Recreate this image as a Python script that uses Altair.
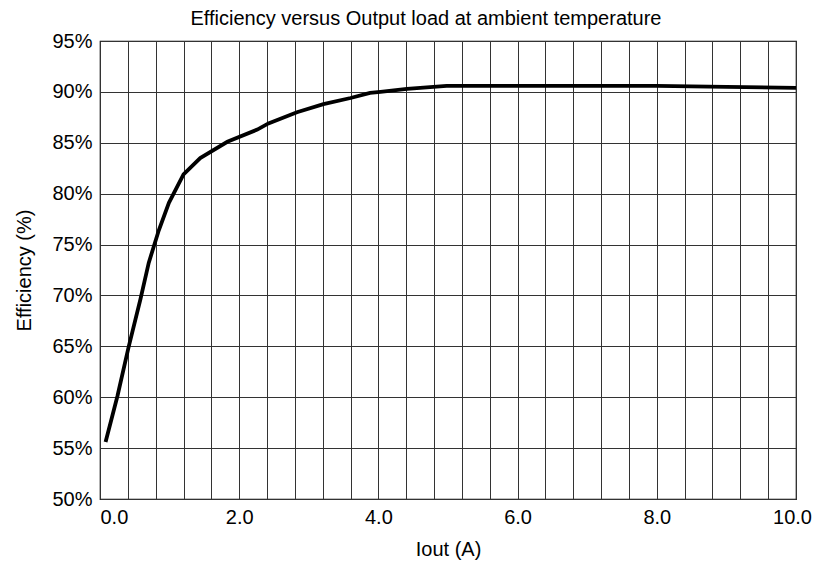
import altair as alt
import pandas as pd

# Output current (A) and efficiency (%)
iout = [0.08, 0.25, 0.41, 0.58, 0.70, 0.845, 0.99, 1.20, 1.44, 1.83, 2.26, 2.42,
        2.83, 3.21, 3.60, 3.88, 4.03, 4.41, 4.98, 6.0, 8.0, 9.0, 10.0]
eff = [55.6, 60.1, 64.9, 69.6, 73.2, 76.4, 79.1, 81.9, 83.5, 85.1, 86.3, 86.9,
       88.0, 88.8, 89.4, 89.9, 90.0, 90.3, 90.6, 90.6, 90.6, 90.5, 90.4]

x_grid = [0.0, 0.4, 0.8, 1.2, 1.6, 2.0, 2.4, 2.8, 3.2, 3.6, 4.0, 4.4, 4.8, 5.2,
          5.6, 6.0, 6.4, 6.8, 7.2, 7.6, 8.0, 8.4, 8.8, 9.2, 9.6, 10.0]
y_ticks = [50, 55, 60, 65, 70, 75, 80, 85, 90, 95]

df = pd.DataFrame({"iout": iout, "eff": eff})

FONT = "Liberation Sans"

chart = alt.Chart(df).mark_line(color="black", strokeWidth=3.8).encode(
    x=alt.X("iout:Q",
            scale=alt.Scale(domain=[0, 10], nice=False, zero=False),
            axis=alt.Axis(values=x_grid, title="Iout (A)", grid=True,
                          labelExpr="datum.value % 2 == 0 ? format(datum.value, '.1f') : ''",
                          labelAlign=alt.ConditionalAxisLabelAlign(
                              condition={"test": "datum.value == 0", "value": "left"},
                              value="center"),
                          labelOffset=alt.ConditionalAxisNumber(
                              condition={"test": "datum.value == 10", "value": -4},
                              value=0),
                          labelFlush=False,
                          ticks=False, domain=False, labelPadding=8,
                          titlePadding=12)),
    y=alt.Y("eff:Q",
            scale=alt.Scale(domain=[50, 95], nice=False, zero=False),
            axis=alt.Axis(values=y_ticks, title="Efficiency (%)", grid=True,
                          labelExpr="datum.value + '%'",
                          ticks=False, domain=False, labelPadding=8,
                          titlePadding=17)),
).properties(
    width=696,
    height=458,
    title=alt.Title("Efficiency versus Output load at ambient temperature",
                    fontSize=20, font=FONT, fontWeight="normal", color="black",
                    anchor="middle", offset=2, dx=-22),
    autosize=alt.AutoSizeParams(type="none"),
    padding={"left": 92, "top": 33, "right": 18, "bottom": 64},
).configure_view(
    stroke="black", strokeWidth=1.2
).configure_axis(
    gridColor="#333333", gridOpacity=1, gridWidth=1,
    labelFont=FONT, labelFontSize=20, labelColor="black",
    titleFont=FONT, titleFontSize=20, titleFontWeight="normal", titleColor="black",
)

chart.save("out.html", embed_options={"renderer": "svg", "actions": False})
